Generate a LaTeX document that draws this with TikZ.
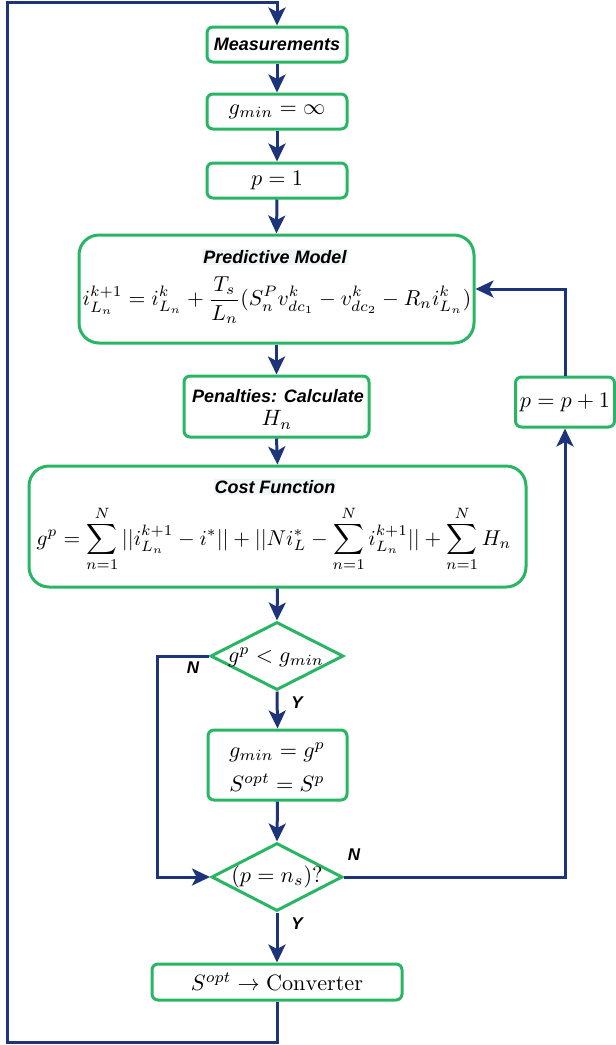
\documentclass[tikz,border=0pt]{standalone}
\usepackage{amsmath}
\usepackage{graphicx}
\usepackage{fontspec}
\newfontfamily\hv{Liberation Sans}
\usetikzlibrary{shapes.geometric,arrows.meta}
\definecolor{bgreen}{RGB}{40,182,100}
\definecolor{navy}{RGB}{30,52,122}
\definecolor{hl}{RGB}{240,245,245}
\newcommand\mth[1]{\scalebox{2.22}{$#1$}}
\newcommand\mths[2]{\scalebox{#1}{$#2$}}
\begin{document}
\begin{tikzpicture}[x=1pt,y=-1pt,
  box/.style={draw=bgreen,line width=3pt,rounded corners=6pt,inner sep=0pt},
  bigbox/.style={box,rounded corners=20pt},
  dia/.style={diamond,draw=bgreen,line width=3pt,inner sep=0pt,aspect=2},
  ttl/.style={font=\fontsize{18}{21}\selectfont\hv\bfseries\itshape,inner sep=1pt},
  hltl/.style={ttl,fill=hl},
  txt/.style={inner sep=0pt},
  yn/.style={font=\fontsize{17}{20}\selectfont\hv\bfseries\itshape,inner sep=0pt},
  arr/.style={draw=navy,line width=3pt,-{Stealth[length=18pt,width=17pt,inset=4.5pt]}}]
\useasboundingbox (0,0) rectangle (616,1045);

\node[box,minimum width=140pt,minimum height=35pt] (meas) at (277,44.5) {};
\node[ttl] (meast) at (277,44.5) {Measurements};
\node[box,minimum width=140pt,minimum height=35pt] (gmin) at (277,111.5) {\mth{g_{min}=\infty}};
\node[box,minimum width=140pt,minimum height=35pt] (p1) at (277,180.5) {\mth{p=1}};

\node[bigbox,minimum width=395pt,minimum height=108pt] (pm) at (276.5,289) {};
\node[hltl] (pmt) at (275,257) {Predictive Model};
\node[txt] (pme) at (277,300) {\mths{2.16}{\displaystyle i_{L_n}^{k+1}=i_{L_n}^{k}+\frac{T_s}{L_n}(S_n^P v_{dc_1}^k-v_{dc_2}^k-R_n i_{L_n}^k)}};

\node[box,minimum width=185pt,minimum height=61pt] (pen) at (276.5,406.5) {};
\node[ttl] (pent) at (278,396) {Penalties: Calculate};
\node[txt] (penh) at (277,420) {\mth{H_n}};

\node[box,minimum width=99pt,minimum height=50pt] (pp1) at (565,402) {\mth{p=p+1}};

\node[bigbox,minimum width=497pt,minimum height=121pt] (cost) at (277.5,526.5) {};
\node[hltl] (costt) at (275,487) {Cost Function};
\node[txt] (coste) at (274,539) {\mths{2.14}{\displaystyle g^p=\sum_{n=1}^{N}||i_{L_n}^{k+1}-i^*||+||Ni_L^*-\sum_{n=1}^{N}i_{L_n}^{k+1}||+\sum_{n=1}^{N}H_n}};

\node[dia,minimum width=133pt,minimum height=68pt] (d1) at (277,656) {};
\node[txt] (d1t) at (276,657) {\mth{g^p<g_{min}}};

\node[box,minimum width=139pt,minimum height=70pt] (upd) at (277.5,765) {};
\node[txt] (upd1) at (277,752) {\mth{g_{min}=g^p}};
\node[txt] (upd2) at (277,783) {\mth{S^{opt}=S^p}};

\node[dia,minimum width=131pt,minimum height=68pt] (d2) at (277,877) {};
\node[txt] (d2t) at (277,877) {\mth{(p=n_s)?}};

\node[box,minimum width=250pt,minimum height=36pt] (conv) at (277,982) {\mth{S^{opt}\rightarrow\mathrm{Converter}}};

\node[yn] (n1) at (193,668) {N};
\node[yn] (y1) at (297,703) {Y};
\node[yn] (n2) at (354,855) {N};
\node[yn] (y2) at (297,924) {Y};

\coordinate (bl) at (7.5,1042);
\coordinate (tl) at (7.5,2);
\coordinate (nx) at (157,656);

\draw[arr] (conv.south) |- (bl) -- (tl) -| (meas.north);
\draw[arr] (meas.south) -- (gmin.north);
\draw[arr] (gmin.south) -- (p1.north);
\draw[arr] (p1.south) -- (pm.north);
\draw[arr] (pm.south) -- (pen.north);
\draw[arr] (pen.south) -- (cost.north);
\draw[arr] (cost.south) -- (d1.north);
\draw[arr] (d1.south) -- (upd.north);
\draw[arr] (upd.south) -- (d2.north);
\draw[arr] (d2.south) -- (conv.north);
\draw[arr] (d1.west) -- (nx) |- (d2.west);
\draw[arr] (d2.east) -| (pp1.south);
\draw[arr] (pp1.north) |- (pm.east);
\end{tikzpicture}
\end{document}
